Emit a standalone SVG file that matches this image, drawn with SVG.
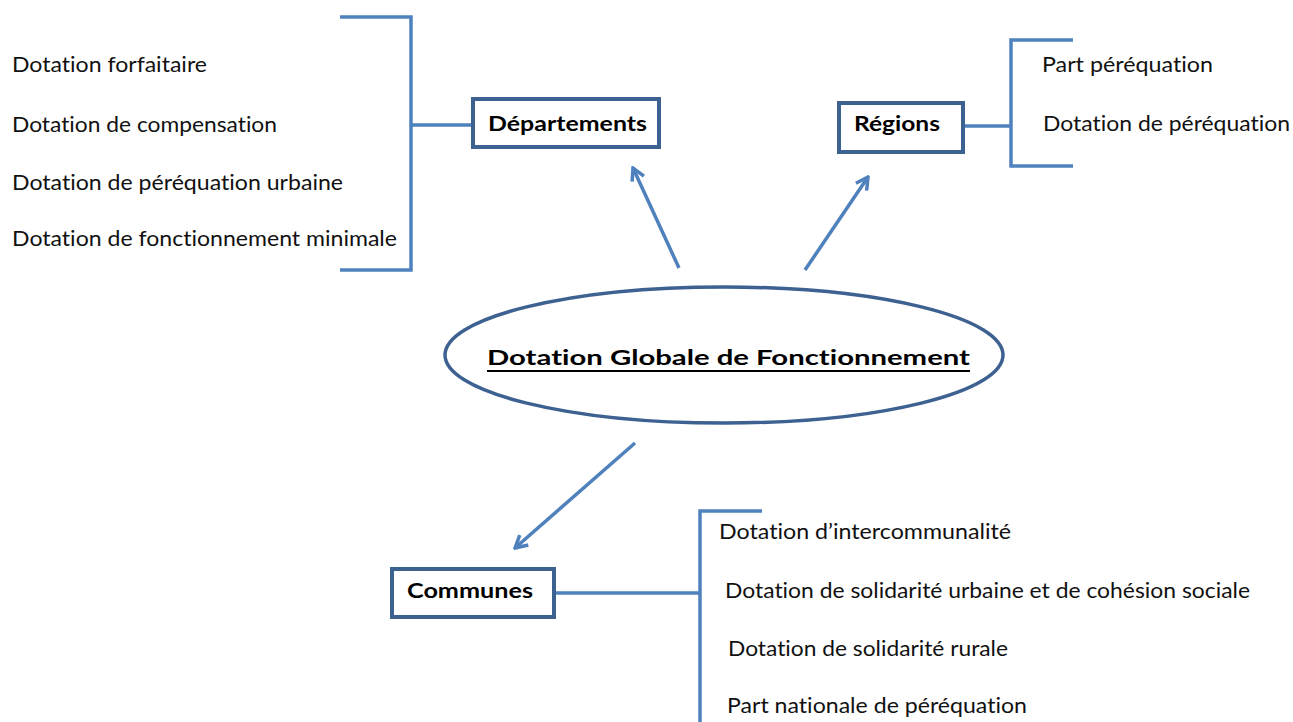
<svg xmlns="http://www.w3.org/2000/svg" width="1293" height="722" viewBox="0 0 1293 722">
<style>
.ln{fill:none;stroke:#4f81bd;stroke-width:3.5;stroke-linecap:butt;stroke-linejoin:miter}
.arr{fill:none;stroke:#4f81bd;stroke-width:3.5}
.box{fill:#fff;stroke:#3d6191;stroke-width:4}
.t{font-family:Lato,"Liberation Sans",Arial,sans-serif;font-size:21.5px;fill:#111;font-variant-ligatures:none}
.b{font-family:Lato,"Liberation Sans",Arial,sans-serif;font-size:21.5px;font-weight:bold;fill:#000;font-variant-ligatures:none}
</style>
<defs>
<marker id="ah" viewBox="0 0 16 16" refX="14" refY="8" markerWidth="16" markerHeight="16" markerUnits="userSpaceOnUse" orient="auto">
<path d="M2,1.5 L14,8 L2,14.5" fill="none" stroke="#4f81bd" stroke-width="3.5"/>
</marker>
</defs>
<rect width="1293" height="722" fill="#fff"/>
<g id="connectors">
<path class="ln" d="M340,17 H411 V270 H340 M411,125 H473"/>
<path class="ln" d="M1073,40 H1011 V166 H1073 M963,126 H1011"/>
<path class="ln" d="M762,511 H700 V722 M554,593 H700"/>
<line class="arr" x1="679" y1="268" x2="633" y2="168" marker-end="url(#ah)"/>
<line class="arr" x1="805" y1="270" x2="868" y2="177" marker-end="url(#ah)"/>
<line class="arr" x1="635" y1="443" x2="515" y2="548" marker-end="url(#ah)"/>
</g>
<g id="dgf">
<ellipse cx="724" cy="355" rx="279" ry="68" fill="#fff" stroke="#3d6191" stroke-width="3.5"/>
<text class="b" x="487" y="365" font-size="27" textLength="483" lengthAdjust="spacingAndGlyphs">Dotation Globale de Fonctionnement</text>
<line x1="487" y1="371" x2="970" y2="371" stroke="#000" stroke-width="2"/>
</g>
<g id="departements">
<rect class="box" x="473" y="99" width="186" height="48"/>
<text class="b" x="488" y="131" textLength="159" lengthAdjust="spacingAndGlyphs">Départements</text>
</g>
<g id="regions">
<rect class="box" x="839" y="103" width="124" height="49"/>
<text class="b" x="854" y="131" textLength="86" lengthAdjust="spacingAndGlyphs">Régions</text>
</g>
<g id="communes">
<rect class="box" x="392" y="569" width="162" height="48"/>
<text class="b" x="407" y="598" textLength="126" lengthAdjust="spacingAndGlyphs">Communes</text>
</g>
<g id="dep-items">
<text class="t" x="12" y="72" textLength="195" lengthAdjust="spacingAndGlyphs">Dotation forfaitaire</text>
<text class="t" x="12" y="132" textLength="265" lengthAdjust="spacingAndGlyphs">Dotation de compensation</text>
<text class="t" x="12" y="190" textLength="331" lengthAdjust="spacingAndGlyphs">Dotation de péréquation urbaine</text>
<text class="t" x="12" y="246" textLength="385" lengthAdjust="spacingAndGlyphs">Dotation de fonctionnement minimale</text>
</g>
<g id="reg-items">
<text class="t" x="1042" y="72" textLength="171" lengthAdjust="spacingAndGlyphs">Part péréquation</text>
<text class="t" x="1043" y="131" textLength="247" lengthAdjust="spacingAndGlyphs">Dotation de péréquation</text>
</g>
<g id="com-items">
<text class="t" x="719" y="539" textLength="292" lengthAdjust="spacingAndGlyphs">Dotation d’intercommunalité</text>
<text class="t" x="725" y="598" textLength="525" lengthAdjust="spacingAndGlyphs">Dotation de solidarité urbaine et de cohésion sociale</text>
<text class="t" x="728" y="656" textLength="280" lengthAdjust="spacingAndGlyphs">Dotation de solidarité rurale</text>
<text class="t" x="727" y="713" textLength="300" lengthAdjust="spacingAndGlyphs">Part nationale de péréquation</text>
</g>
</svg>
